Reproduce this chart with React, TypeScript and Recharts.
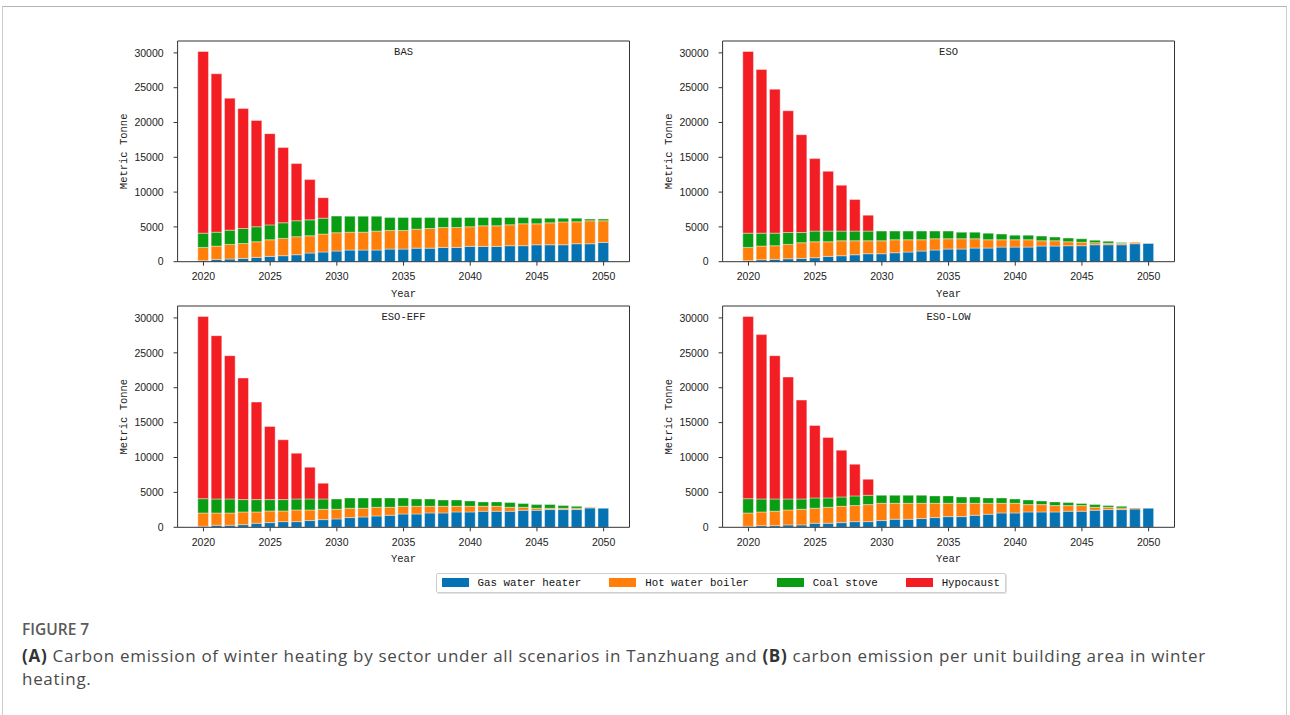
import React from 'react';
import { BarChart, Bar, XAxis, YAxis, ReferenceLine } from 'recharts';

const years = [
  2020, 2021, 2022, 2023, 2024, 2025, 2026, 2027, 2028, 2029, 2030,
  2031, 2032, 2033, 2034, 2035, 2036, 2037, 2038, 2039, 2040,
  2041, 2042, 2043, 2044, 2045, 2046, 2047, 2048, 2049, 2050,
];

// BAS
const basGas = [150, 330, 380, 470, 620, 760, 860, 1000, 1240, 1390, 1530, 1670, 1670, 1670, 1810, 1810, 1950, 1950, 2050, 2050, 2200, 2200, 2200, 2300, 2300, 2430, 2430, 2430, 2580, 2580, 2770];
const basBoiler = [1900, 1910, 2100, 2150, 2250, 2390, 2490, 2590, 2480, 2580, 2630, 2570, 2570, 2720, 2670, 2670, 2720, 2820, 2860, 2860, 2820, 2960, 2960, 3000, 3150, 3010, 3150, 3290, 3150, 3300, 3110];
const basCoal = [2050, 2000, 2050, 2150, 2150, 2140, 2240, 2290, 2290, 2290, 2390, 2300, 2300, 2150, 1860, 1860, 1670, 1570, 1430, 1430, 1330, 1190, 1190, 1050, 900, 810, 670, 530, 530, 240, 240];
const basHypo = [26100, 22760, 18970, 17230, 15280, 13110, 10810, 8220, 5790, 2940, 0, 0, 0, 0, 0, 0, 0, 0, 0, 0, 0, 0, 0, 0, 0, 0, 0, 0, 0, 0, 0];

// ESO
const esoGas = [150, 285, 335, 425, 475, 575, 765, 855, 995, 1145, 1145, 1285, 1385, 1525, 1675, 1815, 1815, 1955, 1955, 2095, 2095, 2095, 2245, 2245, 2295, 2295, 2435, 2435, 2435, 2580, 2625];
const esoBoiler = [1900, 1960, 1960, 2060, 2250, 2290, 2100, 2150, 2010, 1860, 1860, 1870, 1770, 1630, 1620, 1480, 1480, 1340, 1200, 1060, 1060, 1060, 760, 760, 570, 500, 300, 220, 180, 200, 0];
const esoCoal = [2050, 1860, 1810, 1710, 1470, 1530, 1530, 1390, 1390, 1390, 1390, 1240, 1240, 1240, 1100, 1100, 950, 950, 950, 810, 660, 660, 670, 530, 530, 500, 360, 300, 150, 0, 0];
const esoHypo = [26100, 23505, 20685, 17495, 14055, 10415, 8595, 6595, 4535, 2295, 0, 0, 0, 0, 0, 0, 0, 0, 0, 0, 0, 0, 0, 0, 0, 0, 0, 0, 0, 0, 0];

// ESO-EFF
const effGas = [150, 290, 290, 380, 580, 670, 810, 810, 960, 1100, 1200, 1390, 1480, 1630, 1720, 1910, 1910, 2060, 2060, 2200, 2200, 2300, 2300, 2300, 2440, 2440, 2540, 2540, 2540, 2770, 2730];
const effBoiler = [1900, 1760, 1760, 1820, 1620, 1670, 1530, 1680, 1530, 1480, 1380, 1340, 1250, 1240, 1150, 1100, 1100, 950, 950, 810, 810, 710, 710, 570, 430, 290, 190, 190, 190, 100, 0];
const effCoal = [2050, 2010, 2010, 1770, 1770, 1630, 1630, 1570, 1570, 1480, 1480, 1480, 1480, 1340, 1340, 1200, 1050, 1050, 910, 910, 770, 630, 630, 670, 530, 520, 520, 380, 280, 0, 0];
const effHypo = [26100, 23400, 20530, 17420, 13970, 10480, 8570, 6560, 4550, 2260, 0, 0, 0, 0, 0, 0, 0, 0, 0, 0, 0, 0, 0, 0, 0, 0, 0, 0, 0, 0, 0];

// ESO-LOW
const lowGas = [150, 240, 240, 340, 340, 580, 580, 670, 810, 810, 960, 1150, 1150, 1250, 1390, 1530, 1530, 1720, 1870, 2060, 2060, 2200, 2200, 2200, 2300, 2300, 2440, 2540, 2540, 2630, 2730];
const lowBoiler = [1900, 1960, 2060, 2150, 2240, 2150, 2290, 2340, 2300, 2440, 2480, 2290, 2290, 2190, 2050, 1910, 1910, 1720, 1570, 1380, 1380, 1050, 1050, 910, 810, 810, 430, 330, 230, 150, 0];
const lowCoal = [2050, 1860, 1760, 1570, 1480, 1480, 1340, 1340, 1390, 1340, 1150, 1150, 1150, 1150, 1060, 1060, 910, 910, 770, 770, 620, 670, 530, 530, 430, 290, 380, 240, 240, 0, 0];
const lowHypo = [26100, 23550, 20530, 17470, 14170, 10380, 8660, 6700, 4540, 2300, 0, 0, 0, 0, 0, 0, 0, 0, 0, 0, 0, 0, 0, 0, 0, 0, 0, 0, 0, 0, 0];

const seriesKeys = ['gas', 'boiler', 'coal', 'hypo'];
const seriesNames = ['Gas water heater', 'Hot water boiler', 'Coal stove', 'Hypocaust'];
const seriesColors = ['#0573b3', '#ff7f0a', '#0a9c12', '#f31e23'];

const xTicks = [2020, 2025, 2030, 2035, 2040, 2045, 2050];
const yTicks = [0, 5000, 10000, 15000, 20000, 25000, 30000];

const buildRows = (gas: number[], boiler: number[], coal: number[], hypo: number[]) =>
  years.map((year, i) => ({ year, gas: gas[i], boiler: boiler[i], coal: coal[i], hypo: hypo[i] }));

const X_DOMAIN: [number, number] = [2018.06, 2051.94];
const Y_DOMAIN: [number, number] = [0, 31710];
const CHART_W = 540;
const CHART_H = 300;
const Y_AXIS_W = 60;
const X_AXIS_H = 40;

const AXIS = '#333';
const MONO = '"Liberation Mono", "DejaVu Sans Mono", monospace';
const tickStyle = { fill: '#222', fontSize: 10.5, fontFamily: '"Liberation Sans", Arial, sans-serif' };

interface PanelProps {
  title: string;
  rows: ReturnType<typeof buildRows>;
  left: number;
  top: number;
  bottomMargin: number;
}

const Panel: React.FC<PanelProps> = ({ title, rows, left, top, bottomMargin }) => {
  const margin = { top: 11, left: 17.6, right: 10.5, bottom: bottomMargin };
  const plotW = CHART_W - margin.left - Y_AXIS_W - margin.right;
  const barSize = (plotW / (X_DOMAIN[1] - X_DOMAIN[0])) * 0.8;

  return (
    <div style={{ position: 'absolute', left, top, width: CHART_W, height: CHART_H }}>
      <BarChart width={CHART_W} height={CHART_H} data={rows} margin={margin}>
        <XAxis
          dataKey="year"
          type="number"
          domain={X_DOMAIN}
          allowDataOverflow
          ticks={xTicks}
          height={X_AXIS_H}
          tick={tickStyle}
          tickSize={4}
          tickMargin={7}
          tickLine={{ stroke: AXIS }}
          axisLine={{ stroke: AXIS }}
          label={(p: any) => {
            const vb = p.viewBox || p;
            return (
              <text x={vb.x + vb.width / 2} y={vb.y + 35} textAnchor="middle" fontSize={10.5} fontFamily={MONO} fill="#222">
                Year
              </text>
            );
          }}
        />
        <YAxis
          type="number"
          domain={Y_DOMAIN}
          allowDataOverflow
          ticks={yTicks}
          width={Y_AXIS_W}
          tick={tickStyle}
          tickSize={4}
          tickMargin={10}
          tickLine={{ stroke: AXIS }}
          axisLine={{ stroke: AXIS }}
          label={(p: any) => {
            const vb = p.viewBox || p;
            const cx = vb.x + 6;
            const cy = vb.y + vb.height / 2;
            return (
              <text
                x={cx}
                y={cy}
                transform={`rotate(-90 ${cx} ${cy})`}
                textAnchor="middle"
                dominantBaseline="central"
                fontSize={10.5}
                fontFamily={MONO}
                fill="#222"
              >
                Metric Tonne
              </text>
            );
          }}
        />
        {seriesKeys.map((k, i) => (
          <Bar
            key={k}
            dataKey={k}
            name={seriesNames[i]}
            stackId="s"
            fill={seriesColors[i]}
            stroke="#ffffff"
            strokeWidth={0.4}
            barSize={barSize}
            isAnimationActive={false}
          />
        ))}
        {/* frame: top and right edges of the axes box, title sits under the top edge */}
        <ReferenceLine
          y={Y_DOMAIN[1]}
          stroke={AXIS}
          label={(p: any) => {
            const vb = p.viewBox || p;
            return (
              <text x={vb.x + vb.width / 2} y={vb.y + 14} textAnchor="middle" fontSize={10.5} fontFamily={MONO} fill="#222">
                {title}
              </text>
            );
          }}
        />
        <ReferenceLine x={X_DOMAIN[1]} stroke={AXIS} />
      </BarChart>
    </div>
  );
};

const LegendBox: React.FC = () => (
  <div
    style={{
      position: 'absolute',
      left: 435.5,
      top: 572.5,
      width: 570,
      height: 20,
      border: '1px solid #cfcfcf',
      borderRadius: 2,
      boxShadow: '1px 1px 0 #e2e2e2',
      display: 'flex',
      alignItems: 'center',
      paddingLeft: 5,
      boxSizing: 'border-box',
      fontFamily: MONO,
      fontSize: 10.8,
      color: '#111',
      whiteSpace: 'pre',
    }}
  >
    {seriesNames.map((name, i) => (
      <div key={name} style={{ display: 'flex', alignItems: 'center', marginRight: i < seriesNames.length - 1 ? 28 : 0 }}>
        <span style={{ display: 'inline-block', width: 27, height: 8.5, background: seriesColors[i], marginRight: 9 }} />
        <span>{name}</span>
      </div>
    ))}
  </div>
);

const App: React.FC = () => {
  const panels = [
    { title: 'BAS', rows: buildRows(basGas, basBoiler, basCoal, basHypo), left: 100, top: 30, bottomMargin: 28.3 },
    { title: 'ESO', rows: buildRows(esoGas, esoBoiler, esoCoal, esoHypo), left: 645, top: 30, bottomMargin: 28.3 },
    { title: 'ESO-EFF', rows: buildRows(effGas, effBoiler, effCoal, effHypo), left: 100, top: 295, bottomMargin: 27.7 },
    { title: 'ESO-LOW', rows: buildRows(lowGas, lowBoiler, lowCoal, lowHypo), left: 645, top: 295, bottomMargin: 27.7 },
  ];

  return (
    <div style={{ position: 'absolute', left: 0, top: 0, width: 1290, height: 715, background: '#fff', overflow: 'hidden' }}>
      <div
        style={{
          position: 'absolute',
          left: 2,
          top: 6,
          width: 1285,
          height: 760,
          borderTop: '1px solid #b4b4b4',
          borderLeft: '1px solid #cccccc',
          borderRight: '1px solid #cccccc',
          boxSizing: 'border-box',
        }}
      />
      {panels.map((p) => (
        <Panel key={p.title} {...p} />
      ))}
      <LegendBox />
      <div
        style={{
          position: 'absolute',
          left: 22,
          top: 618,
          width: 1260,
          fontFamily: '"Open Sans", "Noto Sans", sans-serif',
        }}
      >
        <div style={{ fontSize: 15.5, lineHeight: '22px', fontWeight: 600, color: '#5a5a5a' }}>FIGURE 7</div>
        <div style={{ fontSize: 17, lineHeight: '23px', color: '#4a4a4a', marginTop: 4, letterSpacing: 0.7, whiteSpace: 'nowrap' }}>
          <b style={{ color: '#333' }}>(A)</b> Carbon emission of winter heating by sector under all scenarios in Tanzhuang and{' '}
          <b style={{ color: '#333' }}>(B)</b> carbon emission per unit building area in winter
          <br />
          heating.
        </div>
      </div>
    </div>
  );
};

export default App;
